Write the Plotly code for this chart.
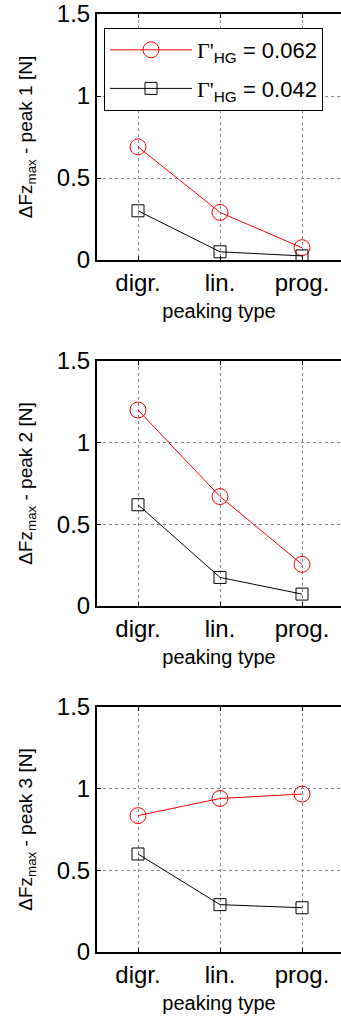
import plotly.graph_objects as go

categories = ["digr.", "lin.", "prog."]
x_pos = [1, 2, 3]
series_names = [
    "<span style='font-family:Liberation Serif'>Γ'</span><sub>HG</sub> = 0.062",
    "<span style='font-family:Liberation Serif'>Γ'</span><sub>HG</sub> = 0.042",
]
peak1_high = [0.69, 0.29, 0.075]
peak1_low = [0.30, 0.05, 0.025]
peak2_high = [1.20, 0.67, 0.255]
peak2_low = [0.62, 0.175, 0.073]
peak3_high = [0.835, 0.94, 0.967]
peak3_low = [0.60, 0.29, 0.271]
y_ticks = [0, 0.5, 1, 1.5]
y_tick_text = ["0", "0.5", "1", "1.5"]
panel_titles = ["ΔFz<sub>max</sub> - peak 1 [N]", "ΔFz<sub>max</sub> - peak 2 [N]", "ΔFz<sub>max</sub> - peak 3 [N]"]

W, H = 341, 1023
L = 97
# vertical pixel extents (top, bottom) of each panel
panels_px = [(14, 260), (361, 606), (707, 952)]

FONT = "Liberation Sans, Arial, sans-serif"
fig = go.Figure()

data = [(peak1_high, peak1_low), (peak2_high, peak2_low), (peak3_high, peak3_low)]
for i, (hi, lo) in enumerate(data):
    xa = "x" if i == 0 else f"x{i+1}"
    ya = "y" if i == 0 else f"y{i+1}"
    fig.add_trace(go.Scatter(
        x=x_pos, y=hi, mode="lines+markers", name=series_names[0], legendgroup="a",
        line=dict(color="#ff0000", width=1),
        marker=dict(symbol="circle-open", size=16, color="#ff0000", line=dict(width=1)),
        xaxis=xa, yaxis=ya, showlegend=(i == 0)))
    fig.add_trace(go.Scatter(
        x=x_pos, y=lo, mode="lines+markers", name=series_names[1], legendgroup="b",
        line=dict(color="#000000", width=1),
        marker=dict(symbol="square-open", size=12, color="#000000", line=dict(width=1)),
        xaxis=xa, yaxis=ya, showlegend=(i == 0)))

layout = dict(
    width=W, height=H,
    margin=dict(l=L, r=0, t=0, b=0, autoexpand=False),
    paper_bgcolor="white", plot_bgcolor="white",
    font=dict(family=FONT, color="black"),
    hovermode=False,
    legend=dict(
        x=(104 - L) / (W - L), y=1 - 28 / H, xanchor="left", yanchor="top",
        bgcolor="white", bordercolor="black", borderwidth=1,
        font=dict(size=22, family=FONT), itemwidth=82, tracegroupgap=7,
    ),
)
xr = [0.5, 0.5 + (W - L) / 82.0]
for i, (top, bot) in enumerate(panels_px):
    sfx = "" if i == 0 else str(i + 1)
    layout["xaxis" + sfx] = dict(
        domain=[0, 1], anchor="y" + sfx, range=xr, automargin=False,
        tickvals=x_pos, ticktext=categories, ticklabeloverflow="allow",
        tickfont=dict(size=24), showgrid=True, gridcolor="#888888", griddash="dot", gridwidth=1,
        showline=True, linecolor="black", linewidth=2, mirror="ticks",
        ticks="inside", ticklen=4, tickcolor="black", zeroline=False,
        title=dict(text="peaking type", font=dict(size=20), standoff=9),
    )
    layout["yaxis" + sfx] = dict(
        domain=[1 - bot / H, 1 - top / H], anchor="x" + sfx, range=[0, 1.5], automargin=False,
        tickvals=y_ticks, ticktext=y_tick_text, ticklabeloverflow="allow",
        tickfont=dict(size=24), showgrid=True, gridcolor="#888888", griddash="dot", gridwidth=1,
        showline=True, linecolor="black", linewidth=2, mirror=False,
        ticks="inside", ticklen=4, tickcolor="black", zeroline=False,
        title=dict(text=panel_titles[i], font=dict(size=19), standoff=19),
    )
fig.update_layout(**layout)
fig.write_html("out.html", config={"displayModeBar": False},
               post_script="document.body.style.margin='0';")
